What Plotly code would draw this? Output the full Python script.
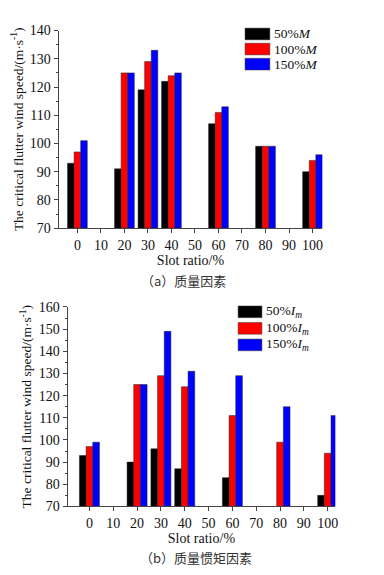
import plotly.graph_objects as go

# ---- data ----
slot_ratio = [0, 20, 30, 40, 60, 80, 100]
x_ticks = [0, 10, 20, 30, 40, 50, 60, 70, 80, 90, 100]

mass_50 = [93, 91, 119, 122, 107, 99, 90]
mass_100 = [97, 125, 129, 124, 111, 99, 94]
mass_150 = [101, 125, 133, 125, 113, 99, 96]

inertia_50 = [93, 90, 96, 87, 83, None, 75]
inertia_100 = [97, 125, 129, 124, 111, 99, 94]
inertia_150 = [99, 125, 149, 131, 129, 115, 111]

names_a = ["50%<i>M</i>", "100%<i>M</i>", "150%<i>M</i>"]
names_b = ["50%<i>I</i><sub><i>m</i></sub>", "100%<i>I</i><sub><i>m</i></sub>", "150%<i>I</i><sub><i>m</i></sub>"]
colors = ["#000000", "#ff0000", "#0000ff"]

FONT = "Liberation Serif, Times New Roman, serif"
PAGE_OFF = 8          # default body margin of the html page
W, H = 368, 559

fig = go.Figure()

bar_w = 2.8
offsets = [-1.5 * bar_w, -0.5 * bar_w, 0.5 * bar_w]

for i, (vals, nm) in enumerate(zip([mass_50, mass_100, mass_150], names_a)):
    fig.add_trace(go.Bar(x=slot_ratio, y=[v - 70 if v is not None else None for v in vals],
                         base=70, name=nm, marker_color=colors[i],
                         marker_line=dict(color="#222", width=0.5),
                         width=bar_w, offset=offsets[i], xaxis="x", yaxis="y",
                         showlegend=False))
for i, (vals, nm) in enumerate(zip([inertia_50, inertia_100, inertia_150], names_b)):
    fig.add_trace(go.Bar(x=slot_ratio, y=[v - 70 if v is not None else None for v in vals],
                         base=70, name=nm, marker_color=colors[i],
                         marker_line=dict(color="#222", width=0.5),
                         width=bar_w, offset=offsets[i], xaxis="x2", yaxis="y2",
                         showlegend=False))

axis_common = dict(
    showline=True, linecolor="#444", linewidth=1, ticks="outside", ticklen=4,
    tickcolor="#444", showgrid=False, zeroline=False,
    tickfont=dict(family=FONT, size=14, color="#111"),
)
ytitle = "The critical flutter wind speed/(m·s<sup>-1</sup>)"
xtitle = "Slot ratio/%"


def px_x(p):
    return (p - PAGE_OFF) / W


def px_y(p):
    return 1 - (p - PAGE_OFF) / H


fig.update_layout(
    width=W, height=H, margin=dict(l=0, r=0, t=0, b=0),
    paper_bgcolor="white", plot_bgcolor="white",
    barmode="overlay",
    xaxis=dict(domain=[px_x(59), px_x(325)], range=[-8.0, 104.2], tickvals=x_ticks,
               anchor="y", title=dict(text=xtitle, font=dict(family=FONT, size=14, color="#111"), standoff=0),
               **axis_common),
    yaxis=dict(domain=[px_y(227), px_y(24)], range=[70, 140], dtick=10, anchor="x",
               minor=dict(dtick=5, ticks="outside", ticklen=2, tickcolor="#444"),
               title=dict(text=ytitle, font=dict(family=FONT, size=13.5, color="#111"), standoff=3),
               **axis_common),
    xaxis2=dict(domain=[px_x(68), px_x(338)], range=[-9.2, 103.2], tickvals=x_ticks,
                anchor="y2", title=dict(text=xtitle, font=dict(family=FONT, size=14, color="#111"), standoff=0),
                **axis_common),
    yaxis2=dict(domain=[px_y(513), px_y(308)], range=[70, 160], dtick=10, anchor="x2",
                minor=dict(dtick=5, ticks="outside", ticklen=2, tickcolor="#444"),
                title=dict(text=ytitle, font=dict(family=FONT, size=13.5, color="#111"), standoff=3),
                **axis_common),
)

# custom legends (large swatches like the original)
legend_a = dict(x0=247, x1=272, rows=[(21.5, 33.5), (37, 49), (52.5, 64.5)], tx=275, names=names_a)
legend_b = dict(x0=240, x1=264, rows=[(307, 319), (324, 336), (341, 353)], tx=267, names=names_b)
for lg in (legend_a, legend_b):
    for (y0, y1), c, nm in zip(lg["rows"], colors, lg["names"]):
        fig.add_shape(type="rect", xref="paper", yref="paper",
                      x0=px_x(lg["x0"]), x1=px_x(lg["x1"]), y0=px_y(y1), y1=px_y(y0),
                      fillcolor=c, line=dict(color="#333", width=0.5))
        fig.add_annotation(xref="paper", yref="paper", x=px_x(lg["tx"]), y=px_y((y0 + y1) / 2),
                           text=nm, showarrow=False, xanchor="left", yanchor="middle",
                           borderpad=0,
                           font=dict(family=FONT, size=13.5, color="#111"))

# captions
fig.add_annotation(xref="paper", yref="paper", x=px_x(185), y=px_y(281),
                   text="（a）质量因素", showarrow=False, xanchor="center", yanchor="middle",
                   font=dict(family="Noto Sans CJK SC", size=13, color="#333"))
fig.add_annotation(xref="paper", yref="paper", x=px_x(198), y=px_y(565),
                   text="（b）质量惯矩因素", showarrow=False, xanchor="center", yanchor="middle",
                   font=dict(family="Noto Sans CJK SC", size=13, color="#333"))

fig.write_html("out.html")
